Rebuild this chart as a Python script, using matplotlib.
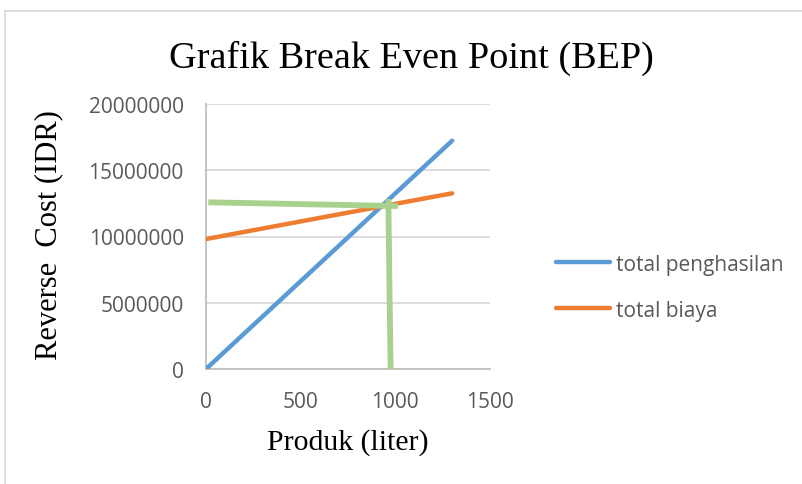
import matplotlib.pyplot as plt
from matplotlib.lines import Line2D

# data
produk = [0, 1300]
total_penghasilan = [0, 17230000]
total_biaya = [9810000, 13260000]

# hand drawn BEP guide lines
bep_h_x = [12, 1014]
bep_h_y = [12580000, 12300000]
bep_v_x = [963, 975]
bep_v_y = [12830000, 0]

x_ticks = [0, 500, 1000, 1500]
y_ticks = [0, 5000000, 10000000, 15000000, 20000000]

W, H = 802, 485
fig = plt.figure(figsize=(W / 100, H / 100), dpi=100)
ax = fig.add_axes([206 / W, 1 - 370 / H, 284 / W, 265 / H])

ax.plot(produk, total_penghasilan, color='#5B9BD5', lw=3.2, solid_capstyle='round',
        label='total penghasilan', zorder=3)
ax.plot(produk, total_biaya, color='#ED7D31', lw=3.2, solid_capstyle='round',
        label='total biaya', zorder=3)
ax.plot(bep_h_x, bep_h_y, color='#A9D18E', lw=4.2, solid_capstyle='butt', zorder=4)
ax.plot(bep_v_x, bep_v_y, color='#A9D18E', lw=4.2, solid_capstyle='butt', zorder=4)

ax.set_xlim(0, 1500)
ax.set_ylim(0, 20000000)
ax.set_xticks(x_ticks)
ax.set_yticks(y_ticks)
ax.set_xticklabels([str(v) for v in x_ticks])
ax.set_yticklabels([str(v) for v in y_ticks])
ax.tick_params(length=0, labelsize=15, labelcolor='#595959', pad=0)
ax.tick_params(axis='y', pad=16)
ax.tick_params(axis='x', pad=16)
for lab in ax.get_xticklabels() + ax.get_yticklabels():
    lab.set_fontfamily('Open Sans')

ax.grid(axis='y', color='#D9D9D9', lw=1.3)
ax.set_axisbelow(True)
for s in ['top', 'right']:
    ax.spines[s].set_visible(False)
for s in ['left', 'bottom']:
    ax.spines[s].set_color('#BFBFBF')
    ax.spines[s].set_linewidth(1.3)

# titles
fig.text(411 / W, 1 - 68 / H, 'Grafik Break Even Point (BEP)', fontsize=27.5,
         family='Liberation Serif', ha='center', va='baseline')
fig.text(348 / W, 1 - 450 / H, 'Produk (liter)', fontsize=21.5,
         family='Liberation Serif', ha='center', va='baseline')
fig.text(49 / W, 1 - 235 / H, 'Reverse  Cost (IDR)', fontsize=22,
         family='Liberation Serif', ha='center', va='center', rotation=90)

leg = fig.legend(loc='center left', bbox_to_anchor=(556 / W, 1 - 288 / H),
                 frameon=False, prop={'family': 'Open Sans', 'size': 15},
                 handlelength=2.6, handletextpad=0.3, labelspacing=1.2,
                 borderpad=0, borderaxespad=0)
for t in leg.get_texts():
    t.set_color('#595959')

# outer chart border (top and left only visible)
fig.add_artist(Line2D([5 / W, 1], [1 - 12 / H, 1 - 12 / H], transform=fig.transFigure,
                      color='#D9D9D9', lw=1.3))
fig.add_artist(Line2D([5 / W, 5 / W], [0, 1 - 12 / H], transform=fig.transFigure,
                      color='#D9D9D9', lw=1.3))

fig.savefig('out.png', dpi=100)
